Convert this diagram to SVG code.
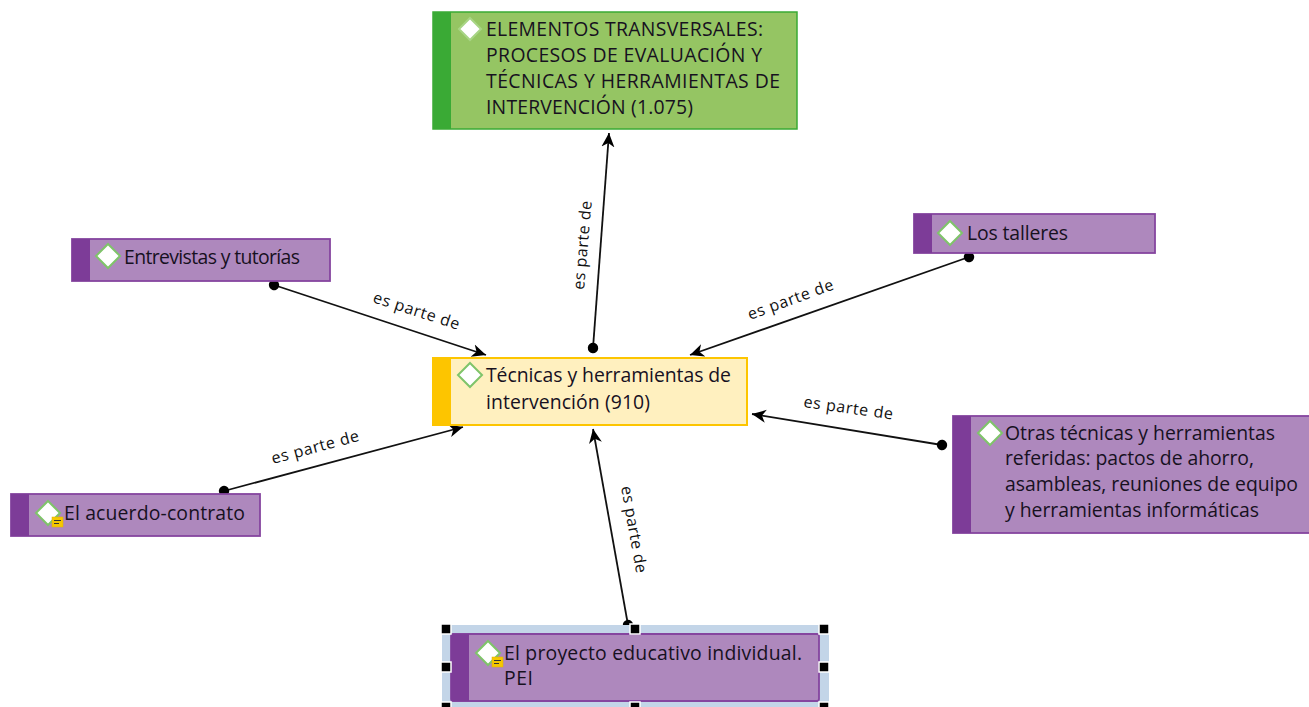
<svg xmlns="http://www.w3.org/2000/svg" width="1309" height="707" viewBox="0 0 1309 707">
<defs>
<marker id="arrow" markerUnits="userSpaceOnUse" markerWidth="16" markerHeight="16" refX="14" refY="7.5" orient="auto"><path d="M0 1 L14 7.5 L0 14 L4 7.5 Z" fill="#000"/></marker>
<marker id="dot" markerUnits="userSpaceOnUse" markerWidth="12" markerHeight="12" refX="6" refY="6" orient="auto"><circle cx="6" cy="6" r="5.2" fill="#000"/></marker>
</defs>
<style>
text{font-family:"Open Sans","Noto Sans",sans-serif;font-size:19.4px;font-weight:500;fill:#17111f}
.lab{font-size:16px;font-weight:400;fill:#111}
.pur{fill:#ae88bd;stroke:#85459f;stroke-width:1.8}
.purb{fill:#7d3c98}
.dia{fill:#fff;stroke:#7fc46a;stroke-width:2}
.con{fill:none;stroke:#111;stroke-width:1.8;marker-start:url(#dot);marker-end:url(#arrow)}
.note{fill:#f5c800;stroke:#e0b000;stroke-width:.5}
.nl{stroke:#333;stroke-width:1.2}
.h{fill:#000;stroke:#fff;stroke-width:1.5}
</style>
<g id="connectors">
<path class="con" d="M593 348 L609 133"/>
<path class="con" d="M274 285 L486 355"/>
<path class="con" d="M969 257 L690 355"/>
<path class="con" d="M224 491 L463 427"/>
<path class="con" d="M942 445 L752 414"/>
<path class="con" d="M628 625 L593 429"/>
<text class="lab" transform="translate(584 290) rotate(-85)" textLength="89">es parte de</text>
<text class="lab" transform="translate(372 302) rotate(18)" textLength="90">es parte de</text>
<text class="lab" transform="translate(750 320) rotate(-20)" textLength="90">es parte de</text>
<text class="lab" transform="translate(273 464) rotate(-15)" textLength="90">es parte de</text>
<text class="lab" transform="translate(803 407) rotate(8)" textLength="90">es parte de</text>
<text class="lab" transform="translate(621 487) rotate(80)" textLength="88">es parte de</text>
</g>
<g id="node-elementos">
<rect x="433" y="12" width="364" height="117" fill="#95c563" stroke="#3aaa35" stroke-width="1.5"/>
<rect x="433" y="12" width="18" height="117" fill="#3aaa35"/>
<path class="dia" style="stroke:#a8d585" d="M470 18 L481 29 L470 40 L459 29 Z"/>
<text x="486" y="36" textLength="277">ELEMENTOS TRANSVERSALES:</text>
<text x="486" y="62" textLength="276">PROCESOS DE EVALUACIÓN Y</text>
<text x="486" y="88" textLength="294">TÉCNICAS Y HERRAMIENTAS DE</text>
<text x="486" y="114" textLength="207">INTERVENCIÓN (1.075)</text>
</g>
<g id="node-entrevistas">
<rect class="pur" x="72" y="239" width="258" height="42"/>
<rect class="purb" x="72" y="239" width="18" height="42"/>
<path class="dia" d="M108 244 L120 256 L108 268 L96 256 Z"/>
<text x="124" y="264" textLength="176">Entrevistas y tutorías</text>
</g>
<g id="node-talleres">
<rect class="pur" x="914" y="214" width="241" height="39"/>
<rect class="purb" x="914" y="214" width="18" height="39"/>
<path class="dia" d="M950 221 L962 233 L950 245 L938 233 Z"/>
<text x="967" y="240" textLength="101">Los talleres</text>
</g>
<g id="node-tecnicas">
<rect x="433" y="358" width="314" height="67" fill="#fff0bf" stroke="#fdc500" stroke-width="2"/>
<rect x="433" y="358" width="18" height="67" fill="#fdc500"/>
<path class="dia" d="M470 363 L482 375 L470 387 L458 375 Z"/>
<text x="486" y="382" textLength="245">Técnicas y herramientas de</text>
<text x="486" y="409" textLength="164">intervención (910)</text>
</g>
<g id="node-otras">
<rect class="pur" x="953" y="416" width="357" height="117"/>
<rect class="purb" x="953" y="416" width="18" height="117"/>
<path class="dia" d="M990 421 L1002 433 L990 445 L978 433 Z"/>
<text x="1005" y="440" textLength="270">Otras técnicas y herramientas</text>
<text x="1005" y="465" textLength="249">referidas: pactos de ahorro,</text>
<text x="1005" y="491" textLength="293">asambleas, reuniones de equipo</text>
<text x="1005" y="517" textLength="254">y herramientas informáticas</text>
</g>
<g id="node-acuerdo">
<rect class="pur" x="11" y="494" width="249" height="42"/>
<rect class="purb" x="11" y="494" width="18" height="42"/>
<path class="dia" d="M48 501 L60 513 L48 525 L36 513 Z"/>
<rect class="note" x="52" y="517" width="11" height="10"/>
<path class="nl" d="M54 520.5 H61 M54 523.5 H59"/>
<text x="64" y="520" textLength="181">El acuerdo-contrato</text>
</g>
<g id="node-proyecto">
<rect x="442" y="625" width="387" height="82" fill="#c3d5e8"/>
<rect class="pur" x="451" y="634" width="368" height="67" rx="2"/>
<rect class="purb" x="451" y="634" width="18" height="67"/>
<path class="dia" d="M488 641 L500 653 L488 665 L476 653 Z"/>
<rect class="note" x="492" y="657" width="11" height="10"/>
<path class="nl" d="M494 660.5 H501 M494 663.5 H499"/>
<text x="504" y="660" textLength="298">El proyecto educativo individual.</text>
<text x="504" y="685" textLength="29">PEI</text>
<rect class="h" x="441" y="624" width="10" height="10"/>
<rect class="h" x="630" y="624" width="10" height="10"/>
<rect class="h" x="819" y="624" width="10" height="10"/>
<rect class="h" x="441" y="662" width="10" height="10"/>
<rect class="h" x="819" y="662" width="10" height="10"/>
<rect class="h" x="441" y="702" width="10" height="10"/>
<rect class="h" x="630" y="702" width="10" height="10"/>
<rect class="h" x="819" y="702" width="10" height="10"/>
</g>
</svg>
